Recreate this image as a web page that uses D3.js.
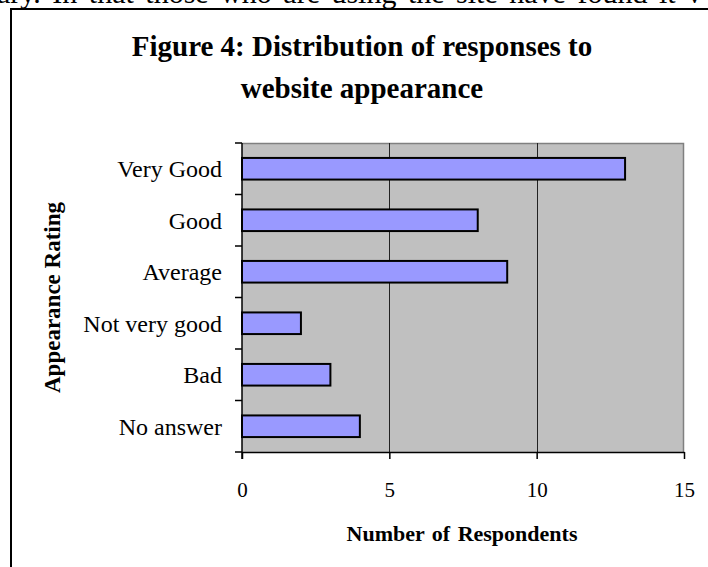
<!DOCTYPE html>
<html>
<head>
<meta charset="utf-8">
<script src="https://cdn.jsdelivr.net/npm/d3@7"></script>
<style>
  html, body { margin: 0; padding: 0; background: #fff; }
  svg { display: block; }
  text { font-family: "Liberation Serif", "Times New Roman", serif; fill: #000; }
</style>
</head>
<body>
<svg id="chart" width="708" height="567"></svg>
<script>
const categories = ["Very Good", "Good", "Average", "Not very good", "Bad", "No answer"];
const values = [13, 8, 9, 2, 3, 4];
const xTicks = [0, 5, 10, 15];
const titleLines = ["Figure 4: Distribution of responses to", "website appearance"];
const xTitle = "Number of Respondents";
const yTitle = "Appearance Rating";
const bodyText = "ary. In that those who are using the site have found it v";

const svg = d3.select("#chart");
const plot = { left: 242, right: 684, top: 143, bottom: 452 };

// clipped body text above the chart frame
svg.append("text")
  .attr("x", -3).attr("y", 3)
  .attr("font-size", 30)
  .attr("word-spacing", 4)
  .text(bodyText);

// chart frame
svg.append("rect")
  .attr("x", 11).attr("y", 9)
  .attr("width", 720).attr("height", 600)
  .attr("fill", "#fff").attr("stroke", "#000").attr("stroke-width", 2);

// title
const title = svg.append("text")
  .attr("text-anchor", "middle")
  .attr("font-weight", "bold")
  .attr("font-size", 29);
titleLines.forEach((t, i) => {
  title.append("tspan").attr("x", 362).attr("y", 56 + i * 42).text(t);
});

const x = d3.scaleLinear().domain([0, 15]).range([plot.left, plot.right]);
const y = d3.scaleBand().domain(categories).range([plot.top, plot.bottom])
  .paddingInner(0.58).paddingOuter(0.29);

// plot background
svg.append("rect")
  .attr("x", plot.left).attr("y", plot.top)
  .attr("width", plot.right - plot.left).attr("height", plot.bottom - plot.top)
  .attr("fill", "#c0c0c0");
// grey border top/right
svg.append("path")
  .attr("d", `M${plot.left},${plot.top + 0.5}H${plot.right - 0.5}V${plot.bottom}`)
  .attr("fill", "none").attr("stroke", "#808080").attr("stroke-width", 1.5);

// gridlines
svg.append("g").selectAll("line")
  .data(xTicks.filter(d => d > 0 && d < 15))
  .join("line")
  .attr("x1", d => Math.round(x(d)) + 0.5).attr("x2", d => Math.round(x(d)) + 0.5)
  .attr("y1", plot.top).attr("y2", plot.bottom)
  .attr("stroke", "#222").attr("stroke-width", 1);

// bars
svg.append("g").selectAll("rect")
  .data(categories.map((c, i) => ({ c, v: values[i] })))
  .join("rect")
  .attr("x", x(0))
  .attr("y", d => y(d.c))
  .attr("width", d => x(d.v) - x(0))
  .attr("height", y.bandwidth())
  .attr("fill", "#9999ff")
  .attr("stroke", "#000").attr("stroke-width", 2);

// x axis
const xAxis = svg.append("g")
  .attr("transform", `translate(0,${plot.bottom})`)
  .call(d3.axisBottom(x).tickValues(xTicks).tickSize(7).tickSizeOuter(0).tickPadding(23));
xAxis.select(".domain").attr("stroke", "#000").attr("stroke-width", 1.5);
xAxis.selectAll(".tick line").attr("stroke", "#000").attr("stroke-width", 1.5);
xAxis.selectAll("text").attr("font-size", 21).attr("font-family", "Liberation Serif");

svg.append("line")
  .attr("x1", plot.left - 7).attr("x2", plot.left)
  .attr("y1", plot.bottom).attr("y2", plot.bottom)
  .attr("stroke", "#000").attr("stroke-width", 1.5);

// y axis (ticks at category boundaries)
const boundaries = d3.range(categories.length + 1).map(i => plot.top + i * (plot.bottom - plot.top) / categories.length);
svg.append("line")
  .attr("x1", plot.left).attr("x2", plot.left)
  .attr("y1", plot.top).attr("y2", plot.bottom + 7)
  .attr("stroke", "#000").attr("stroke-width", 1.5);
svg.append("g").selectAll("line")
  .data(boundaries.slice(0, -1))
  .join("line")
  .attr("x1", plot.left - 7).attr("x2", plot.left)
  .attr("y1", d => d).attr("y2", d => d)
  .attr("stroke", "#000").attr("stroke-width", 1.5);

svg.append("g").selectAll("text")
  .data(categories)
  .join("text")
  .attr("x", 222)
  .attr("y", d => y(d) + y.bandwidth() / 2)
  .attr("dy", "0.35em")
  .attr("text-anchor", "end")
  .attr("font-size", 24)
  .text(d => d);

// axis titles
svg.append("text")
  .attr("x", 462).attr("y", 541)
  .attr("text-anchor", "middle")
  .attr("font-weight", "bold")
  .attr("font-size", 22)
  .attr("word-spacing", 2)
  .text(xTitle);

svg.append("text")
  .attr("transform", `translate(60,${(plot.top + plot.bottom) / 2}) rotate(-90)`)
  .attr("text-anchor", "middle")
  .attr("font-weight", "bold")
  .attr("font-size", 23)
  .text(yTitle);
</script>
</body>
</html>
